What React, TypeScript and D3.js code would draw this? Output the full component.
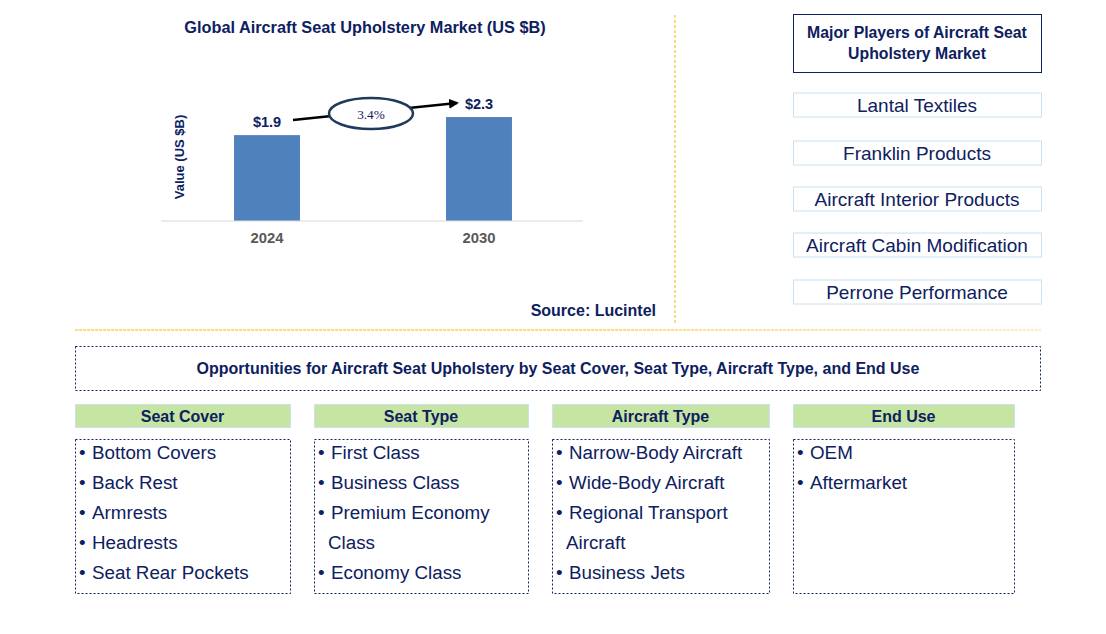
import React from "react";
import * as d3 from "d3";

const years = ["2024", "2030"];
const values = [1.9, 2.3];
const valueLabels = ["$1.9", "$2.3"];
const cagr = "3.4%";
const chartTitle = "Global Aircraft Seat Upholstery Market (US $B)";
const yAxisTitle = "Value (US $B)";
const source = "Source: Lucintel";
const playersTitle = ["Major Players of Aircraft Seat", "Upholstery Market"];
const players = [
  "Lantal Textiles",
  "Franklin Products",
  "Aircraft Interior Products",
  "Aircraft Cabin Modification",
  "Perrone Performance",
];
const oppTitle =
  "Opportunities for Aircraft Seat Upholstery by Seat Cover, Seat Type, Aircraft Type, and End Use";
const segments = ["Seat Cover", "Seat Type", "Aircraft Type", "End Use"];
const segmentItems: string[][][] = [
  [["Bottom Covers"], ["Back Rest"], ["Armrests"], ["Headrests"], ["Seat Rear Pockets"]],
  [["First Class"], ["Business Class"], ["Premium Economy", "Class"], ["Economy Class"]],
  [["Narrow-Body Aircraft"], ["Wide-Body Aircraft"], ["Regional Transport", "Aircraft"], ["Business Jets"]],
  [["OEM"], ["Aftermarket"]],
];

const NAVY = "#0d2060";
const FONT = "'Liberation Sans', Arial, sans-serif";

export default function App() {
  const W = 1106;
  const H = 634;
  const baseY = 221;
  const x = d3
    .scaleBand<string>()
    .domain(years)
    .range([161, 585])
    .paddingInner(0.689)
    .paddingOuter(0.3445);
  const y = d3.scaleLinear().domain([0, 1]).range([baseY, baseY - 45.2]);

  const segX = [75, 314, 552, 793];
  const segW = [215, 214, 217, 221];
  const itemFont = 18.8;
  const dy = 1.5;

  return (
    <svg
      width={W}
      height={H}
      style={{ position: "absolute", left: 0, top: 0, background: "#fff" }}
      fontFamily={FONT}
    >
      <defs>
        <linearGradient id="fadeH" gradientUnits="userSpaceOnUse" x1="75" x2="1041" y1="0" y2="0">
          <stop offset="0" stopColor="#F5B800" />
          <stop offset="0.55" stopColor="#F5B800" />
          <stop offset="1" stopColor="#F8DC90" />
        </linearGradient>
        <marker id="arrowHead" viewBox="0 0 10 10" refX="8" refY="5" markerWidth="4" markerHeight="4" orient="auto">
          <path d="M0,0 L10,5 L0,10 z" fill="#000" />
        </marker>
      </defs>

      {/* chart title */}
      <text x={365} y={27 + dy} textAnchor="middle" dominantBaseline="middle" fontWeight="bold" fontSize={16.3} fill={NAVY}>
        {chartTitle}
      </text>

      {/* y axis title */}
      <text
        transform={`translate(181,157) rotate(-90)`}
        textAnchor="middle"
        dominantBaseline="middle"
        fontWeight="bold"
        fontSize={13}
        fill={NAVY}
      >
        {yAxisTitle}
      </text>

      {/* bars */}
      {years.map((yr, i) => (
        <g key={yr}>
          <rect x={x(yr)} y={y(values[i])} width={x.bandwidth()} height={baseY - y(values[i])} fill="#4F81BD" />
          <text
            x={(x(yr) as number) + x.bandwidth() / 2}
            y={y(values[i]) - 13 + dy}
            textAnchor="middle"
            dominantBaseline="middle"
            fontWeight="bold"
            fontSize={14.5}
            fill={NAVY}
          >
            {valueLabels[i]}
          </text>
          <text
            x={(x(yr) as number) + x.bandwidth() / 2}
            y={238 + dy}
            textAnchor="middle"
            dominantBaseline="middle"
            fontWeight="bold"
            fontSize={14.8}
            fill="#595959"
          >
            {yr}
          </text>
        </g>
      ))}
      <line x1={161} x2={583} y1={baseY} y2={baseY} stroke="#d9d9d9" strokeWidth={1} />

      {/* CAGR arrow */}
      <line x1={293} y1={120} x2={457} y2={103} stroke="#000" strokeWidth={2.5} markerEnd="url(#arrowHead)" />
      <ellipse cx={371} cy={113.5} rx={42} ry={15.5} fill="#fff" stroke="#1F3A5A" strokeWidth={2.5} />
      <text
        x={371}
        y={114 + dy}
        textAnchor="middle"
        dominantBaseline="middle"
        fontSize={13.3}
        fill={NAVY}
        fontFamily="'Liberation Serif', 'Times New Roman', serif"
      >
        {cagr}
      </text>

      {/* source */}
      <text x={656} y={310 + dy} textAnchor="end" dominantBaseline="middle" fontWeight="bold" fontSize={16} fill={NAVY}>
        {source}
      </text>

      {/* dividers */}
      <line x1={675} x2={675} y1={15} y2={325} stroke="#F5B800" strokeWidth={1} strokeDasharray="3,2" />
      <line x1={75} x2={1041} y1={330} y2={330} stroke="url(#fadeH)" strokeWidth={1} strokeDasharray="3,1" />

      {/* players */}
      <rect x={793.5} y={14.5} width={248} height={58} fill="#fff" stroke={NAVY} strokeWidth={1} />
      {playersTitle.map((t, i) => (
        <text key={t} x={917} y={32 + i * 21 + dy} textAnchor="middle" dominantBaseline="middle" fontWeight="bold" fontSize={15.8} fill={NAVY}>
          {t}
        </text>
      ))}
      {players.map((p, i) => {
        const cy = [105, 153, 199, 245, 292][i];
        return (
          <g key={p}>
            <rect x={793.5} y={cy - 12} width={248} height={24} fill="#fff" stroke="#C9E2F2" strokeWidth={1} />
            <text x={917} y={cy + dy} textAnchor="middle" dominantBaseline="middle" fontSize={19} fill={NAVY}>
              {p}
            </text>
          </g>
        );
      })}

      {/* opportunities */}
      <rect x={75.5} y={346.5} width={965} height={44} fill="#fff" stroke={NAVY} strokeWidth={1} strokeDasharray="2,2" />
      <text x={558} y={368 + dy} textAnchor="middle" dominantBaseline="middle" fontWeight="bold" fontSize={16} fill={NAVY}>
        {oppTitle}
      </text>

      {segments.map((s, si) => {
        const sx = segX[si];
        const sw = segW[si];
        let line = 0;
        return (
          <g key={s}>
            <rect x={sx + 0.5} y={404.5} width={sw} height={23} fill="#C6E5A2" stroke="#C9E2F2" strokeWidth={1} />
            <text x={sx + sw / 2} y={416 + dy} textAnchor="middle" dominantBaseline="middle" fontWeight="bold" fontSize={16} fill={NAVY}>
              {s}
            </text>
            <rect x={sx + 0.5} y={439.5} width={sw} height={154} fill="#fff" stroke={NAVY} strokeWidth={1} strokeDasharray="2,2" />
            {segmentItems[si].map((item, ii) => (
              <g key={ii}>
                {item.map((ln, li) => {
                  const ly = 453 + line * 30 + dy;
                  line += 1;
                  return (
                    <g key={li}>
                      {li === 0 && (
                        <text x={sx + 4} y={ly} dominantBaseline="middle" fontSize={itemFont} fill={NAVY}>
                          •
                        </text>
                      )}
                      <text x={li === 0 ? sx + 17 : sx + 14} y={ly} dominantBaseline="middle" fontSize={itemFont} fill={NAVY}>
                        {ln}
                      </text>
                    </g>
                  );
                })}
              </g>
            ))}
          </g>
        );
      })}
    </svg>
  );
}
